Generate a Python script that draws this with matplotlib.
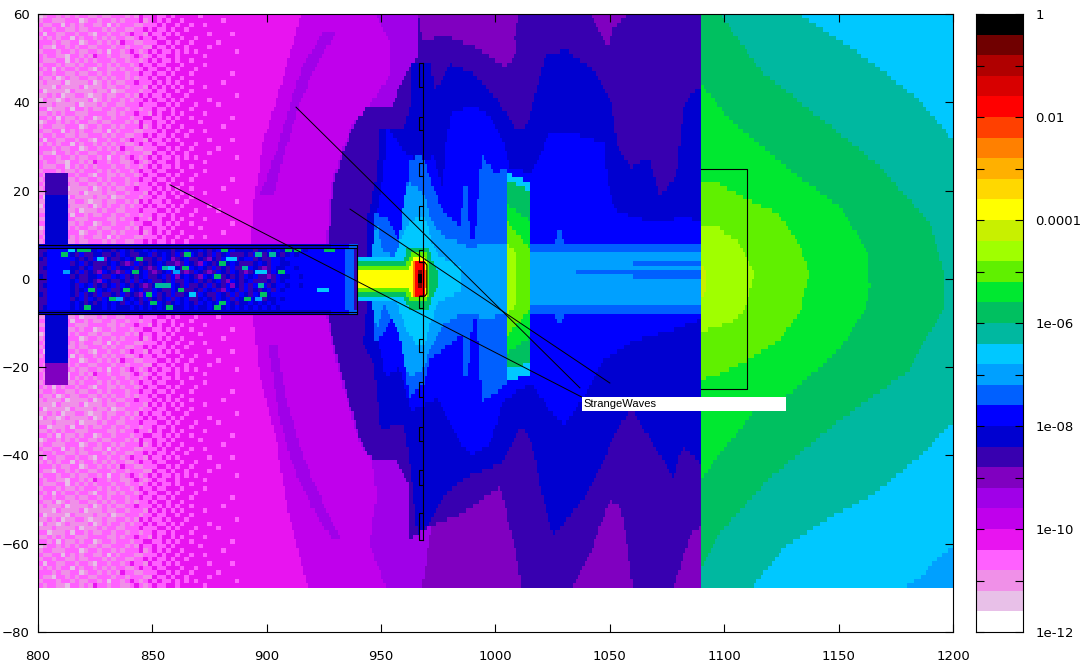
import matplotlib
matplotlib.use("Agg")
import matplotlib.pyplot as plt
import numpy as np
from matplotlib.colors import ListedColormap, BoundaryNorm
from matplotlib.path import Path

# colour bands of the palette, from 1e-12 (white) to 1 (black), 0.4 decade each
band_colors = ["#ffffff", "#e8c0e8", "#f090e8", "#ff60ff", "#e814f0", "#c000ec",
               "#a000e8", "#8000c0", "#3800b0", "#0000d0", "#0000ff", "#0060ff",
               "#00a0ff", "#00c8ff", "#00b8a0", "#00c060", "#00e830", "#60f000",
               "#a0ff00", "#c8f000", "#ffff00", "#ffd800", "#ffb000", "#ff8000",
               "#ff4000", "#ff0000", "#d80000", "#b00000", "#700000", "#000000"]

x_ticks = [800, 850, 900, 950, 1000, 1050, 1100, 1150, 1200]
y_ticks = [-80, -60, -40, -20, 0, 20, 40, 60]
cb_ticks = [1, 1e-2, 1e-4, 1e-6, 1e-8, 1e-10, 1e-12]
cb_labels = ["1", "0.01", "0.0001", "1e-06", "1e-08", "1e-10", "1e-12"]

# contour outlines: (band, [(x, y), ...]), painted in this order
mid_upper = [
    (5, [(915, 60), (907.4, 45.8), (898.4, 30.7), (893.9, 15.6), (893, 8), (893, 0), (1090, 0), (1090, 60)]),
    (6, [(924, 55.6), (930, 55.6), (921, 48), (913.5, 38.2), (907.4, 27.7), (902.9, 18.7), (896.9, 18.7),
         (904.4, 29.2), (910.4, 39.8), (915.7, 48)]),
    (6, [(948, 60), (1090, 60), (1090, 0), (926, 0), (926, 8), (927, 14), (928, 21.6), (933, 29), (937.5, 35),
         (944, 39), (954, 46), (954, 53)]),
    (8, [(926.7, 0), (926.7, 8), (927.8, 14), (929.3, 21.6), (933.8, 29.2), (938.3, 35.2), (943.6, 38.6),
         (954, 38.6), (961.7, 47.3), (966.2, 50.3), (966, 60), (1090, 60), (1090, 0)]),
    (7, [(966, 60), (1010, 60), (1008.4, 55), (1009, 51), (1004.6, 48), (993, 52), (978, 55), (968, 54)]),
    (7, [(1041.5, 60), (1058, 60), (1051.3, 56.4), (1049, 52.6), (1044.5, 57)]),
    (9, [(943.6, 0), (943.6, 8), (944.4, 14.8), (948, 23.1), (949.6, 34.5), (960, 33.7), (963, 40.5), (963, 48.8),
         (972, 48.8), (973, 42.8), (977, 45), (980, 48.8), (990, 46.6), (1001, 40.5), (1008.4, 34.5), (1013, 33.7),
         (1017.4, 41.3), (1022, 51), (1031, 51.8), (1043, 47.3), (1050.6, 39.8), (1053.6, 29.2), (1059.6, 25.4),
         (1067.2, 27.7), (1071.7, 18.6), (1079.2, 23.2), (1082, 38), (1085, 42), (1090, 43.5), (1090, 0)]),
    (10, [(946.6, 0), (946.6, 8), (948, 15), (951, 23), (952.6, 34.5), (961.7, 27.7), (968, 27), (973, 27.7),
          (977, 20), (978, 30), (981, 38), (984.3, 38.2), (990.3, 39.4), (997.9, 36.7), (1003.9, 30.7), (1006, 25.4),
          (1016, 23.9), (1023.5, 33), (1034, 33), (1047.6, 30.7), (1049, 21.6), (1052, 15.6), (1068.7, 12.6),
          (1083.8, 14), (1090, 12.6), (1090, 0)]),
    (11, [(947, 0), (947, 14.8), (953, 14), (957, 9), (959, 8), (961, 18), (962, 27), (968, 28), (972, 22),
          (976.8, 15.6), (985, 11.8), (986, 21), (987.5, 21), (989, 8.8), (991, 9), (994, 28), (1000, 24),
          (1004.6, 25.4), (1005, 8), (1026, 8), (1028, 12), (1030, 8), (1090, 8), (1090, 0)]),
]

mid_lower = [
    (5, [(893, 0), (893.9, -8), (896.9, -22), (904.4, -37), (909, -52), (918, -70), (1090, -70), (1090, 0)]),
    (6, [(900.7, -14.6), (904.4, -14.6), (909, -28.2), (916.5, -41), (924, -50), (933, -59), (928.5, -59),
         (919.5, -51.6), (910.4, -41), (904.4, -28.2)]),
    (6, [(926, 0), (926, -8), (928.5, -14.6), (933.8, -25.2), (940.5, -37.3), (946, -41), (948, -48.6), (945, -60),
         (952, -70), (1090, -70), (1090, 0)]),
    (7, [(972, -56), (986, -53), (1001, -47), (1006, -50), (1010, -60), (1011.4, -70), (968, -70)]),
    (8, [(926.7, 0), (926.7, -8), (929.3, -14.6), (934.6, -25.2), (941.3, -37.3), (946.6, -41), (957, -41),
         (962, -47), (962, -59), (972, -56), (986, -53), (1002, -47), (1008, -60), (1011.4, -70), (1090, -70),
         (1090, 0)]),
    (7, [(1034, -70), (1043, -60), (1050, -50), (1055, -52), (1058, -62), (1060, -70)]),
    (7, [(1078, -70), (1085, -58), (1090, -56), (1090, -70)]),
    (9, [(943.6, 0), (943.6, -8), (942, -14.6), (946.6, -19), (949.6, -34), (960, -32.7), (963.2, -44.8),
         (966, -58.4), (970.7, -55.4), (976.8, -49.3), (987.3, -44.8), (1002.4, -41.8), (1011.4, -33.5),
         (1016, -37.3), (1020.5, -49.3), (1025, -58.4), (1037, -50.9), (1046, -42.6), (1053.6, -33.5),
         (1059.6, -29.7), (1068.7, -37.3), (1077.7, -44.8), (1082, -38), (1090, -41.8), (1090, 0)]),
    (10, [(947, 0), (947, -10), (952, -22), (958, -20), (963, -30), (975, -27), (984, -37), (990, -40), (998, -37),
          (1003, -28), (1010, -25), (1016, -24), (1024, -30), (1030, -33), (1037, -28), (1048, -18), (1060, -14),
          (1075, -12), (1090, -9), (1090, 0)]),
    (11, [(947, 0), (947, -14), (950, -13), (955, -8), (960, -14), (962, -27), (968.5, -24), (971, -18.4),
          (986, -12.3), (986, -22), (988, -22), (990, -9.3), (992, -9), (994, -28), (1004.6, -24), (1005, -8),
          (1026, -8), (1028, -11), (1030, -8), (1090, -8), (1090, 0)]),
]

core = [
    (12, [(946, 0), (946, 6), (948, 13), (951, 6), (957, 5), (960, 18), (962, 22), (968, 20), (973, 12), (978, 9.5),
          (985, 8), (990, 7), (995, 8.5), (1000, 8), (1005, 8), (1005, 6), (1090, 6), (1090, -6), (1005, -6),
          (1005, -8), (995, -9), (990, -7.5), (985, -8), (978, -10), (973, -14), (968, -21), (962, -22), (960, -19),
          (958, -13), (951, -6), (948, -12), (946, -6)]),
    (11, [(1060, 4), (1090, 4), (1090, 3), (1060, 3)]),
    (11, [(1035, 2), (1090, 2), (1090, 1), (1035, 1)]),
    (11, [(1060, 1), (1090, 1), (1090, 0), (1060, 0)]),
    (13, [(940, 4.5), (956, 5), (958, 8), (961, 12), (966, 14), (969, 14), (974, 6), (980, 4), (985, 3), (985, -3),
          (980, -4), (974, -6), (969, -15), (966, -15), (961, -12), (958, -7), (956, -5), (940, -4.5)]),
    (15, [(939.5, 4.2), (960, 4.2), (962, 7.3), (971, 7.3), (973, 3), (975, 1.5), (975, -1.5), (973, -3), (971, -7),
          (962, -7), (960, -4.2), (939.5, -4.2)]),
    (17, [(939.5, 3.2), (961, 3.2), (963, 5.5), (970, 5.5), (971.5, 2), (971.5, -2), (970, -5.5), (963, -5.5),
          (961, -3.2), (939.5, -3.2)]),
    (20, [(939.5, 2), (962, 2), (964, 4.5), (969.5, 4.5), (970.5, 1.5), (970.5, -1.5), (969.5, -4.5), (964, -4.5),
          (962, -2), (939.5, -2)]),
    (23, [(964.5, 4.2), (969, 4), (970, 0), (969, -4), (964.5, -4.2), (964, 0)]),
    (25, [(965, 3.8), (968.5, 3.6), (969.5, 0), (968.5, -3.6), (965, -3.8), (964.6, 0)]),
    (28, [(966, 2.2), (968, 2.2), (968, -2.2), (966, -2.2)]),
    (29, [(966, 1.2), (968, 1.2), (968, -1.2), (966, -1.2)]),
    # the bright column behind the beam line
    (13, [(1005, 24), (1015, 22), (1015, -22), (1005, -23)]),
    (15, [(1005, 22.5), (1015, 20), (1015, -19), (1005, -20.5)]),
    (16, [(1005, 17), (1015, 13), (1015, -13), (1005, -17)]),
    (17, [(1005, 13), (1015, 7), (1015, -7), (1005, -13)]),
    (18, [(1005, 8), (1009, 6), (1009, -6), (1005, -8)]),
]

right_side = [
    (14, [(1090, 60), (1132, 60), (1151, 54), (1167, 48), (1184, 41), (1200, 31.5), (1200, -32.4), (1186, -40),
          (1165, -49), (1143, -55), (1126, -61), (1112, -70), (1090, -70)]),
    (12, [(1200, -60.5), (1194, -63), (1185, -68), (1178, -70), (1200, -70)]),
    (15, [(1090, 60), (1098, 60), (1117, 46.6), (1143, 36), (1167, 26), (1190, 12.6), (1196.5, 0), (1195.6, -7),
          (1180, -21), (1149, -32.6), (1120, -45), (1098, -57.6), (1090, -66)]),
    (16, [(1090, 43.9), (1104, 35.3), (1128.7, 24.7), (1150.6, 16.3), (1162.4, 6.5), (1163.7, -1.8), (1161.5, -7),
          (1150.6, -16), (1128.7, -25.9), (1112.6, -30.4), (1096.8, -40.4), (1090, -45.6)]),
    (17, [(1090, 22), (1096, 22), (1110, 17.9), (1123, 15), (1133, 8), (1137, 1.3), (1133, -7.7), (1124, -13.9),
          (1110, -18.4), (1097, -21.8), (1090, -22.8)]),
    (18, [(1090, 11.7), (1097, 11.7), (1107, 8), (1113.4, 1.3), (1109, -7), (1102.5, -10), (1090, -12)]),
    (19, [(1090, 4), (1092, 1), (1092, -3), (1090, -5)]),
]

# block on the left, 2x1 unit cells, upstream of the beam pipe
left_texture = [
    "323322133232433233223432343344344444344444444",
    "233323323223323133234323434334343434444444434",
    "322133232332233323323332243343443444434444444",
    "333232233123323232433223334434344344444344444",
    "232323313233232323322343343344434434444444444",
    "313322332332133233234332433434344444434444344",
    "233233223223332323322334343343443444444444444",
    "322331323233223132333223334344344344344444444",
    "233222333123323323233342343434434444444434444",
    "123323232332232233323243343343444443444444444",
    "332313223233123323332334433434344344444444344",
    "223232332223333223233433243443434444344444444",
    "331222313323223323323323343343444344444444444",
    "222322223122232332233343334434344434444344444",
    "132212322223123233232334343343434444434444444",
    "223231223321223223323243433434443444444444434",
    "312222132222322312233323343344344344444444444",
    "222132222312223223323332434343434444344444444",
    "232223122223123232233433343434344344444434444",
    "322312322332232323323233434434434444444444444",
    "233233223223323233323343343343444344444444344",
    "323132332332133223233234334434344434444444444",
    "233323223233323232332343343344434444344444444",
    "322233132323233323323323434334344344444444444",
]

# beam pipe, 2x1 unit cells, rows from y=7 down to y=-8
pipe_texture = [
    "9999999999999999999999999999999999999999999999999999999999999999aaaabb",
    "88aaaaa998999a9989a9899a9a999899a99a989a99a9999899a9a9a9aa9aaaaaaaabb",
    "89aaaaa98a88998898a98899a89a98a88a9898a89a88898a989a989a9aaaaaaaaaabb",
    "98aaaaaa9898a979889a98a8898a9789a8898798a9889aa8988aa9aaaaaaaaaaaaabb",
    "88aaaaa89a898889a9878a8989a98878a987a98989a98889a98aa99aaaaaaaaaaaabb",
    "89aaaaa9989a8898a899a89878a9a8987a9a98a898a889a9878a99aa9aaaaaaaaaabb",
    "88aaaaa98a8987a9878a989a8789a89878a9878a98a98789a98a9aaaaaaaaaaaaaabb",
    "98aaaaa898899a88a9a8989a889a8a79a987a9a889898a9a8878a99aa9aaaaaaaaabb",
    "88aaaaa9a88987a98898a8a9a8898a88a9a8989a87a989a88898a9aaaaaaaaaaaaabb",
    "89aaaaa98a9a8989a8a9898789a98a98a8898a898a798a8a9a89aa9aa9aaaaaaaaabb",
    "88aaaaa989a88a9a8898a9a88a988a9a8898a9a87a9a8a8989a8a9aaaaaaaaaaaaabb",
    "98aaaaa98a898a8898a8987a9a898a889a8a988a98a8a98a9a9aaaaaaaaaaaaaaaabb",
    "88aaaaa89a8a98a9a889a98a8989a8a9a889a98a9a8a98a9a899a9aaaaaaaaaaaaabb",
    "88aaaaa9a98989a9a98a9a89a9a989a9a98a9a9a9a9899a9a9a9aaaaaaaaaaaaaaabb",
    "89aaaaa9a9a999a9a999a9a9a9a9a999a9a99a9a9a9a9a9a9a9a9aaaaaaaaaaaaaabb",
    "9999999999999999999999999999999999999999999999999999999999999999aaaabb",
]

# single bright cells inside the pipe: x, y, band
speck_x = [810, 813, 817, 820, 826, 843, 811, 841, 854, 857, 859, 863, 864, 880, 882, 884, 879, 877, 889, 895, 901,
           895, 897, 905, 908, 912, 925, 927, 896, 897, 895, 890, 924, 922, 851, 853, 855, 861, 866, 847, 837, 822,
           831, 834, 849, 820, 856, 877, 879]
speck_y = [5, 6, 6, 6, 4, 4, 1, 1, 2, 2, 1, 2, 5, 6, 4, 4, 3, 0, 2, 5, 5, 1, 1, 1, 6, 6, 6, 6, -2, -4, -5, -5, -3, -3,
           -2, -2, -2, -3, -4, -4, -3, -3, -5, -5, -6, -7, -7, -7, -6]
speck_b = [15, 13, 15, 15, 13, 15, 12, 15, 14, 13, 12, 15, 15, 15, 13, 13, 15, 15, 14, 14, 14, 13, 13, 15, 15, 15, 15,
           15, 14, 15, 12, 15, 13, 13, 14, 14, 14, 15, 13, 15, 15, 15, 15, 12, 15, 15, 15, 15, 15]

# dark column crossing the pipe: x range with (y top, y bottom, band)
column_x = (803, 813)
column_rows = [(24, 19, 8), (19, -19, 9), (-19, -24, 7)]

# geometry outlines
pipe_lines_y = [7.7, 7.1, -7.4, -8.0]
pipe_end = 939.5
box_x = [1090, 1110, 1110, 1090]
box_y = [25, 25, -25, -25]
wall_left, wall_right = 966.7, 968.4
wall_top, wall_bottom = 49, -59.2
wall_notches = [(49, 43.5), (36.7, 33.7), (26.2, 23.3), (16.5, 13.3), (6.5, 3.9), (-3.9, -6.7),
                (-13.6, -16.5), (-23.4, -26.8), (-33.5, -36.7), (-43.3, -46.7), (-53, -59.2)]
cup_x = [967, 969.2, 970, 970, 969.2, 967]
cup_y = [3.7, 3.7, 3.1, -3.3, -3.9, -3.9]
pointer_starts = [(857.7, 21.3), (936.4, 15.8), (912.8, 38.9)]
pointer_ends = [(1037.8, -26.8), (1050, -23.6), (1036.9, -24.7)]
label_box = (1037.8, 1127, -30.0, -26.8)
label_text = "StrangeWaves"

x_edges = np.arange(800, 1201)
y_edges = np.arange(-70, 61)
xc = x_edges[:-1] + 0.5
yc = y_edges[:-1] + 0.5
XC, YC = np.meshgrid(xc, yc)
pts = np.column_stack([XC.ravel(), YC.ravel()])

Z = np.full(XC.shape, 4, dtype=float)
Z[XC >= 1090] = 13


def paint(layers):
    for band, verts in layers:
        mask = Path(verts).contains_points(pts).reshape(Z.shape)
        Z[mask] = band


# left speckled part, the block is repeated over the height
for j, y in enumerate(yc):
    row = left_texture[j % len(left_texture)]
    for i, c in enumerate(row):
        Z[j, 2 * i:2 * i + 2] = int(c, 36)

paint(mid_upper)
paint(mid_lower)
paint(core)
paint(right_side)

# column first, then the pipe on top
for top, bot, band in column_rows:
    Z[(XC >= column_x[0]) & (XC < column_x[1]) & (YC < top) & (YC >= bot)] = band

for k, row in enumerate(pipe_texture):
    j = np.searchsorted(y_edges, 7 - k)
    for i, c in enumerate(row[:70]):
        Z[j, 2 * i:2 * i + 2] = int(c, 36)

for sx, sy, sb in zip(speck_x, speck_y, speck_b):
    j = np.searchsorted(y_edges, sy)
    i = np.searchsorted(x_edges, sx)
    Z[j, i:i + 3] = sb

cmap = ListedColormap(band_colors)
norm = BoundaryNorm(np.arange(-0.5, 30.5), 30)

W, H = 1084, 670
fig = plt.figure(figsize=(W / 100, H / 100), dpi=100)
ax = fig.add_axes([38 / W, 1 - 632 / H, (953 - 38) / W, (632 - 14) / H])
ax.pcolormesh(x_edges, y_edges, Z, cmap=cmap, norm=norm, shading="flat", antialiased=False, rasterized=True)

lw = 0.8
for y in pipe_lines_y:
    ax.plot([800, pipe_end], [y, y], color="black", lw=lw)
ax.plot([pipe_end, pipe_end], [pipe_lines_y[0], pipe_lines_y[-1]], color="black", lw=lw)
ax.plot(box_x, box_y, color="black", lw=lw)
ax.plot([wall_right, wall_right], [wall_top, wall_bottom], color="black", lw=lw)
for top, bot in wall_notches:
    ax.plot([wall_right, wall_left, wall_left, wall_right], [top, top, bot, bot], color="black", lw=lw)
ax.plot(cup_x, cup_y, color="black", lw=lw)
for (x0, y0), (x1, y1) in zip(pointer_starts, pointer_ends):
    ax.plot([x0, x1], [y0, y1], color="black", lw=0.7)

x0, x1, y0, y1 = label_box
ax.fill([x0, x1, x1, x0], [y0, y0, y1, y1], color="white", lw=0, zorder=3)
ax.text(x0 + 0.8, (y0 + y1) / 2, label_text, family="Liberation Sans", fontsize=8, va="center", ha="left", zorder=4)

ax.set_xlim(800, 1200)
ax.set_ylim(-80, 60)
ax.set_xticks(x_ticks)
ax.set_yticks(y_ticks)
ax.tick_params(direction="in", top=True, right=True, length=6, width=0.8, labelsize=9.5)
ax.tick_params(axis="x", pad=13)
ax.tick_params(axis="y", pad=6)

# colour box
cax = fig.add_axes([976 / W, 1 - 632 / H, (1023 - 976) / W, (632 - 14) / H])
cb_edges = 10.0 ** (-12 + 0.4 * np.arange(31))
cax.pcolormesh([0, 1], cb_edges, np.arange(30).reshape(-1, 1), cmap=cmap, norm=norm, antialiased=False)
cax.set_yscale("log")
cax.set_ylim(1e-12, 1)
cax.set_xlim(0, 1)
cax.set_xticks([])
cax.yaxis.tick_right()
cax.set_yticks(cb_ticks)
cax.set_yticklabels(cb_labels)
cax.set_yticks([10.0 ** e for e in range(-11, 0, 2)], minor=True)
cax.set_yticklabels([], minor=True)
cax.tick_params(axis="y", which="both", direction="in", left=True, right=True, length=6, width=0.8,
                labelsize=9.5, pad=9)

fig.savefig("out.png", dpi=100)
